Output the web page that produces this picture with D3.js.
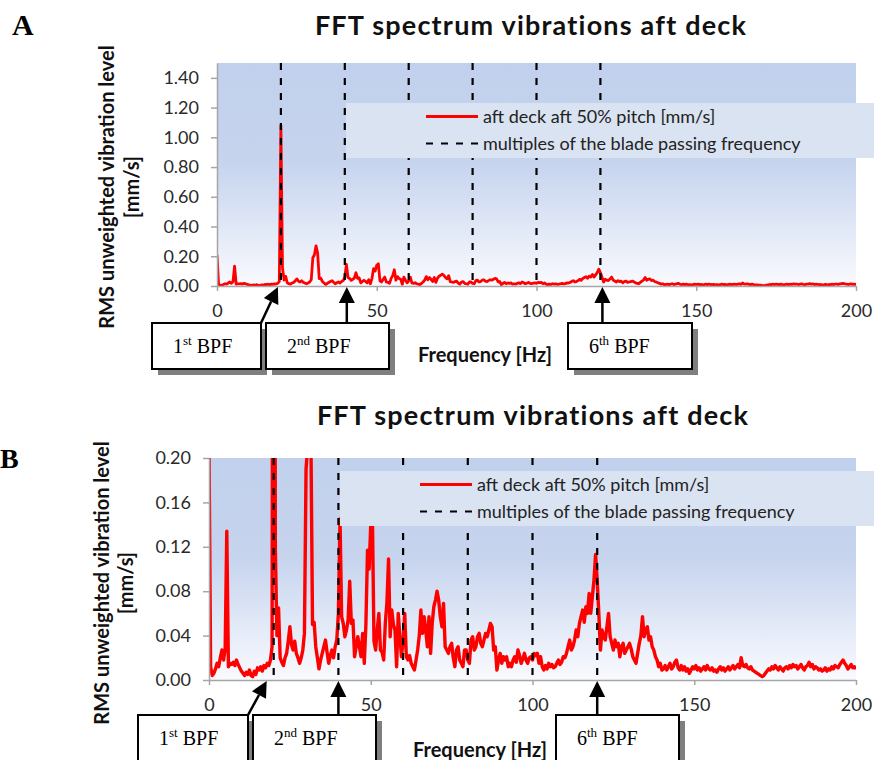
<!DOCTYPE html>
<html>
<head>
<meta charset="utf-8">
<script src="https://cdn.jsdelivr.net/npm/d3@7"></script>
<style>
  body { margin: 0; background: #fff; }
  svg { display: block; }
  .axis .domain, .axis line { stroke: #a6a6a6; stroke-width: 1.5; }
  .axis text { font-family: Lato, "Open Sans", sans-serif; font-size: 18px; fill: #2a2a2a; }
</style>
</head>
<body>
<svg id="chart" width="874" height="760"></svg>
<script>
// RMS vibration spectrum, aft deck, 50% pitch — one sample every 0.5 Hz from 0 to 200 Hz
const freqStep = 0.5;
const amplitude = [
  // 0 – 9.5 Hz
  0.210,0.012,0.004,0.006,0.010,0.015,0.012,0.020,0.027,0.018,0.028,0.134,0.012,0.015,0.014,0.016,0.013,0.018,0.014,0.011,
  // 10 – 19.5 Hz
  0.008,0.006,0.004,0.007,0.005,0.009,0.004,0.003,0.008,0.005,0.011,0.009,0.012,0.008,0.013,0.011,0.015,0.013,0.018,0.030,
  // 20 – 29.5 Hz
  1.080,0.120,0.040,0.065,0.020,0.016,0.013,0.020,0.024,0.035,0.048,0.032,0.027,0.035,0.024,0.020,0.015,0.020,0.027,0.042,
  // 30 – 39.5 Hz
  0.190,0.210,0.270,0.220,0.050,0.052,0.030,0.020,0.010,0.018,0.024,0.030,0.036,0.025,0.015,0.022,0.027,0.020,0.030,0.036,
  // 40 – 49.5 Hz
  0.060,0.145,0.057,0.051,0.039,0.045,0.054,0.089,0.051,0.054,0.021,0.030,0.039,0.030,0.021,0.042,0.015,0.050,0.117,0.100,
  // 50 – 59.5 Hz
  0.140,0.150,0.035,0.027,0.045,0.060,0.027,0.025,0.018,0.051,0.070,0.109,0.039,0.063,0.050,0.045,0.012,0.060,0.039,0.021,
  // 60 – 69.5 Hz
  0.035,0.060,0.021,0.018,0.022,0.015,0.012,0.009,0.018,0.027,0.040,0.063,0.042,0.057,0.045,0.030,0.057,0.024,0.051,0.066,
  // 70 – 79.5 Hz
  0.072,0.080,0.072,0.057,0.048,0.069,0.030,0.027,0.024,0.030,0.033,0.020,0.012,0.027,0.030,0.018,0.015,0.012,0.027,0.027,
  // 80 – 89.5 Hz
  0.018,0.015,0.036,0.039,0.027,0.030,0.039,0.042,0.033,0.030,0.036,0.042,0.039,0.045,0.051,0.048,0.027,0.030,0.009,0.018,
  // 90 – 99.5 Hz
  0.024,0.015,0.021,0.018,0.021,0.012,0.015,0.012,0.018,0.021,0.016,0.027,0.022,0.015,0.019,0.024,0.018,0.015,0.020,0.021,
  // 100 – 109.5 Hz
  0.018,0.024,0.022,0.024,0.015,0.021,0.012,0.009,0.013,0.010,0.015,0.012,0.014,0.011,0.012,0.015,0.018,0.014,0.016,0.021,
  // 110 – 119.5 Hz
  0.020,0.024,0.030,0.036,0.027,0.030,0.036,0.045,0.039,0.051,0.057,0.063,0.052,0.066,0.060,0.078,0.060,0.075,0.090,0.113,
  // 120 – 129.5 Hz
  0.090,0.060,0.027,0.045,0.039,0.036,0.048,0.060,0.039,0.033,0.027,0.036,0.030,0.033,0.021,0.030,0.033,0.024,0.027,0.030,
  // 130 – 139.5 Hz
  0.033,0.028,0.021,0.018,0.015,0.024,0.033,0.040,0.057,0.039,0.045,0.048,0.036,0.039,0.030,0.027,0.021,0.018,0.012,0.015,
  // 140 – 149.5 Hz
  0.009,0.010,0.013,0.009,0.012,0.015,0.010,0.012,0.016,0.018,0.011,0.009,0.013,0.009,0.012,0.008,0.010,0.006,0.009,0.012,
  // 150 – 159.5 Hz
  0.010,0.013,0.009,0.011,0.008,0.010,0.012,0.009,0.013,0.010,0.009,0.011,0.008,0.009,0.007,0.010,0.012,0.009,0.011,0.008,
  // 160 – 169.5 Hz
  0.010,0.012,0.009,0.011,0.013,0.010,0.012,0.014,0.011,0.020,0.013,0.012,0.014,0.011,0.010,0.012,0.009,0.008,0.007,0.006,
  // 170 – 179.5 Hz
  0.005,0.004,0.003,0.004,0.006,0.008,0.010,0.009,0.012,0.010,0.013,0.011,0.009,0.012,0.010,0.008,0.011,0.012,0.010,0.013,
  // 180 – 189.5 Hz
  0.011,0.014,0.012,0.013,0.010,0.012,0.014,0.011,0.009,0.012,0.013,0.016,0.012,0.014,0.010,0.012,0.011,0.009,0.010,0.008,
  // 190 – 200 Hz
  0.009,0.011,0.008,0.010,0.009,0.012,0.010,0.013,0.012,0.011,0.014,0.016,0.018,0.015,0.013,0.010,0.012,0.014,0.011,0.012,
  0.010
];

// Multiples of the blade passing frequency (Hz)
const bpfHarmonics = [20, 40, 60, 80, 100, 120];

const xTicks = [0, 50, 100, 150, 200];
const yTicksA = [0, 0.2, 0.4, 0.6, 0.8, 1.0, 1.2, 1.4];
const yTicksB = [0, 0.04, 0.08, 0.12, 0.16, 0.20];

const chartTitle = "FFT spectrum vibrations aft deck";
const seriesLabel = "aft deck aft 50% pitch [mm/s]";
const bpfLabel = "multiples of the blade passing frequency";
const yTitleLines = ["RMS unweighted vibration level", "[mm/s]"];
const xTitle = "Frequency [Hz]";

// Callouts pointing at selected harmonics
const calloutOrder = ["1", "2", "6"];
const calloutSuffix = ["st", "nd", "th"];
const calloutHarmonic = [20, 40, 120];

const spectrum = amplitude.map((v, i) => ({ f: i * freqStep, v }));

// ---- layout of the two panels ----
const panels = [
  {
    id: "a", letter: "A", letterX: 12, letterY: 35, letterSize: 30,
    titleX: 531, titleY: 35,
    left: 217, right: 856, top: 63, bottom: 286,
    yMax: 1.5, yTicks: yTicksA, lineWidth: 2.8,
    legend: { x: 346, y: 103, w: 528, h: 55 },
    xTitleX: 485, xTitleY: 362,
    yTitleX: [114, 139], yTitleY: 187,
    boxes: [
      { x: 152, w: 109, tipDx: -3, fromX: 261 },
      { x: 266, w: 123, tipDx: 2 },
      { x: 568, w: 124, tipDx: 2 }
    ],
    boxY: 323, boxH: 46
  },
  {
    id: "b", letter: "B", letterX: 0, letterY: 468, letterSize: 28,
    titleX: 533, titleY: 425,
    left: 209, right: 856, top: 458, bottom: 680,
    yMax: 0.2, yTicks: yTicksB, lineWidth: 3.4,
    legend: { x: 340, y: 471, w: 534, h: 55 },
    xTitleX: 480, xTitleY: 757,
    yTitleX: [109, 133], yTitleY: 583,
    boxes: [
      { x: 138, w: 110, tipDx: -7, fromX: 248 },
      { x: 253, w: 123, tipDx: 0 },
      { x: 556, w: 123, tipDx: 0 }
    ],
    boxY: 715, boxH: 60
  }
];

const svg = d3.select("#chart");
const defs = svg.append("defs");

const grad = defs.append("linearGradient")
  .attr("id", "plotBg").attr("x1", 0).attr("y1", 0).attr("x2", 0).attr("y2", 1);
grad.append("stop").attr("offset", "0%").attr("stop-color", "#c1d0ec");
grad.append("stop").attr("offset", "45%").attr("stop-color", "#c6d4ee");
grad.append("stop").attr("offset", "100%").attr("stop-color", "#f9fafe");

const sansFont = "Lato, 'Open Sans', sans-serif";
const serifFont = "'Liberation Serif', 'DejaVu Serif', serif";

panels.forEach(p => {
  const g = svg.append("g");
  const x = d3.scaleLinear().domain([0, 200]).range([p.left, p.right]);
  const y = d3.scaleLinear().domain([0, p.yMax]).range([p.bottom, p.top]);

  // panel letter
  g.append("text").attr("x", p.letterX).attr("y", p.letterY)
    .attr("font-family", serifFont).attr("font-weight", "bold")
    .attr("font-size", p.letterSize).attr("fill", "#000").text(p.letter);

  // title
  g.append("text").attr("x", p.titleX).attr("y", p.titleY)
    .attr("text-anchor", "middle").attr("font-family", sansFont)
    .attr("font-weight", "bold").attr("font-size", 27)
    .attr("letter-spacing", 1.2).attr("fill", "#111")
    .text(chartTitle);

  // plot background
  g.append("rect").attr("x", p.left).attr("y", p.top)
    .attr("width", p.right - p.left).attr("height", p.bottom - p.top)
    .attr("fill", "url(#plotBg)");

  // spectrum line, clipped to the plot area
  defs.append("clipPath").attr("id", "clip-" + p.id)
    .append("rect").attr("x", p.left).attr("y", p.top)
    .attr("width", p.right - p.left).attr("height", p.bottom - p.top);

  const line = d3.line().x(d => x(d.f)).y(d => y(d.v));
  g.append("path").datum(spectrum)
    .attr("clip-path", `url(#clip-${p.id})`)
    .attr("fill", "none").attr("stroke", "#ff0000")
    .attr("stroke-width", p.lineWidth).attr("stroke-linejoin", "round")
    .attr("d", line);

  // blade passing frequency multiples
  g.selectAll(".bpf").data(bpfHarmonics).join("line")
    .attr("x1", d => x(d)).attr("x2", d => x(d))
    .attr("y1", p.top).attr("y2", p.bottom)
    .attr("stroke", "#000").attr("stroke-width", 2.2)
    .attr("stroke-dasharray", "7,8");

  // axes
  g.append("g").attr("class", "axis")
    .attr("transform", `translate(${p.left},0)`)
    .call(d3.axisLeft(y).tickValues(p.yTicks).tickFormat(d3.format(".2f"))
      .tickSize(6).tickSizeOuter(0).tickPadding(12));

  g.append("g").attr("class", "axis")
    .attr("transform", `translate(0,${p.bottom})`)
    .call(d3.axisBottom(x).tickValues(xTicks).tickFormat(d3.format("d"))
      .tickSize(5).tickSizeOuter(0).tickPadding(13));

  // axis titles
  p.yTitleX.forEach((tx, i) => {
    g.append("text")
      .attr("transform", `translate(${tx},${p.yTitleY}) rotate(-90)`)
      .attr("text-anchor", "middle").attr("font-family", sansFont)
      .attr("font-weight", "bold").attr("font-size", 20).attr("fill", "#111")
      .text(yTitleLines[i]);
  });

  g.append("text").attr("x", p.xTitleX).attr("y", p.xTitleY)
    .attr("text-anchor", "middle").attr("font-family", sansFont)
    .attr("font-weight", "bold").attr("font-size", 20).attr("fill", "#111")
    .text(xTitle);

  // legend
  const L = p.legend;
  const lg = g.append("g");
  lg.append("rect").attr("x", L.x).attr("y", L.y).attr("width", L.w).attr("height", L.h)
    .attr("fill", "#dae3f1");
  const rows = [
    { label: seriesLabel, stroke: "#ff0000", dash: null, width: 3 },
    { label: bpfLabel, stroke: "#000", dash: "7,8", width: 2.2 }
  ];
  rows.forEach((r, i) => {
    const ry = L.y + 13.5 + i * 27;
    lg.append("line").attr("x1", L.x + 80).attr("x2", L.x + 132)
      .attr("y1", ry).attr("y2", ry)
      .attr("stroke", r.stroke).attr("stroke-width", r.width)
      .attr("stroke-dasharray", r.dash);
    lg.append("text").attr("x", L.x + 137).attr("y", ry + 6)
      .attr("font-family", sansFont).attr("font-size", 18).attr("fill", "#222")
      .text(r.label);
  });

  // callout boxes with arrows
  p.boxes.forEach((b, i) => {
    const cg = g.append("g");
    const tipX = x(calloutHarmonic[i]) + b.tipDx;
    const tipY = p.bottom + 1;
    const fromX = b.fromX !== undefined ? b.fromX : tipX;
    const fromY = p.boxY;

    // shadow and box
    cg.append("rect").attr("x", b.x + 6).attr("y", p.boxY + 6)
      .attr("width", b.w).attr("height", p.boxH).attr("fill", "#7f7f7f");
    cg.append("rect").attr("x", b.x).attr("y", p.boxY)
      .attr("width", b.w).attr("height", p.boxH)
      .attr("fill", "#fff").attr("stroke", "#000").attr("stroke-width", 2);

    const t = cg.append("text").attr("x", b.x + 21).attr("y", p.boxY + 30)
      .attr("font-family", serifFont).attr("font-size", 20).attr("fill", "#000");
    t.append("tspan").text(calloutOrder[i]);
    t.append("tspan").attr("dy", -8).attr("font-size", 13).text(calloutSuffix[i]);
    t.append("tspan").attr("dy", 8).text(" BPF");

    // arrow shaft and head
    const ang = Math.atan2(tipY - fromY, tipX - fromX);
    const headLen = 16, headHalf = 8;
    const bx = tipX - headLen * Math.cos(ang), by = tipY - headLen * Math.sin(ang);
    const nx = -Math.sin(ang), ny = Math.cos(ang);
    cg.append("line").attr("x1", fromX).attr("y1", fromY).attr("x2", bx).attr("y2", by)
      .attr("stroke", "#000").attr("stroke-width", 2.5);
    cg.append("path")
      .attr("d", `M${tipX},${tipY}L${bx + nx * headHalf},${by + ny * headHalf}L${bx - nx * headHalf},${by - ny * headHalf}Z`)
      .attr("fill", "#000");
  });
});
</script>
</body>
</html>
